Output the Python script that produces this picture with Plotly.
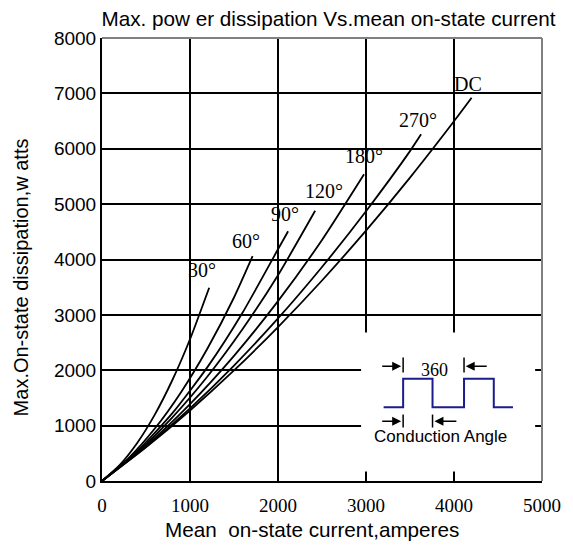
import plotly.graph_objects as go

# ---- data ----
cur_dc = [0, 500, 1000, 1500, 2000, 2500, 3000, 3500, 4000, 4200]
pow_dc = [0, 607, 1273, 1997, 2780, 3621, 4521, 5479, 6496, 6920]

cur_270 = [0, 500, 1000, 1500, 2000, 2500, 3000, 3500, 3626]
pow_270 = [0, 617, 1312, 2085, 2936, 3865, 4872, 5957, 6260]

cur_180 = [0, 500, 1000, 1500, 2000, 2500, 2978]
pow_180 = [0, 637, 1390, 2261, 3248, 4353, 5540]

cur_120 = [0, 400, 800, 1200, 1600, 2000, 2422]
pow_120 = [0, 518, 1150, 1892, 2749, 3716, 4880]

cur_90 = [0, 400, 800, 1200, 1600, 2000, 2115]
pow_90 = [0, 537, 1225, 2061, 3048, 4184, 4510]

cur_60 = [0, 300, 600, 900, 1200, 1500, 1711]
pow_60 = [0, 410, 947, 1609, 2398, 3314, 4060]

cur_30 = [0, 200, 400, 600, 800, 1000, 1218]
pow_30 = [0, 287, 687, 1199, 1824, 2560, 3491]

series_names = ["30°", "60°", "90°", "120°", "180°", "270°", "DC"]
label_x = [1133, 1633, 2078, 2522, 2978, 3589, 4161]
label_y = [3810, 4334, 4821, 5237, 5869, 6519, 7169]

x_ticks = [0, 1000, 2000, 3000, 4000, 5000]
y_ticks = [0, 1000, 2000, 3000, 4000, 5000, 6000, 7000, 8000]

SANS = "Liberation Sans, Arial, sans-serif"
SERIF = "Liberation Serif, Times New Roman, serif"

fig = go.Figure()
curves = [(cur_30, pow_30), (cur_60, pow_60), (cur_90, pow_90), (cur_120, pow_120),
          (cur_180, pow_180), (cur_270, pow_270), (cur_dc, pow_dc)]
for (cx, cy), nm in zip(curves, series_names):
    fig.add_trace(go.Scatter(x=cx, y=cy, mode="lines", name=nm,
                             line=dict(color="black", width=1.8, shape="spline", smoothing=0.6),
                             showlegend=False, hoverinfo="skip"))

annotations = []
for nm, lx, ly in zip(series_names, label_x, label_y):
    annotations.append(dict(x=lx, y=ly, xref="x", yref="y", text=nm, showarrow=False,
                            font=dict(family=SERIF, size=20, color="black")))

# axis titles
annotations.append(dict(x=0.4767, y=-0.1106, xref="paper", yref="paper",
                        xanchor="center", yanchor="middle",
                        text="Mean  on-state current,amperes", showarrow=False,
                        font=dict(family=SANS, size=20.7, color="black")))
annotations.append(dict(x=-0.182, y=0.4594, xref="paper", yref="paper",
                        xanchor="center", yanchor="middle",
                        text="Max.On-state dissipation,w atts", showarrow=False, textangle=-90,
                        font=dict(family=SANS, size=20, color="black")))

# ---- inset diagram (decoration) ----
shapes = []
shapes.append(dict(type="rect", xref="x", yref="y", x0=2944, x1=4922, y0=171, y1=2680,
                   fillcolor="white", line=dict(width=0), layer="between"))
wave_x = [3200, 3422, 3422, 3756, 3756, 4114, 4114, 4452, 4452, 4670]
wave_y = [1332, 1332, 1845, 1845, 1332, 1332, 1845, 1845, 1332, 1332]
fig.add_trace(go.Scatter(x=wave_x, y=wave_y, mode="lines", showlegend=False, hoverinfo="skip",
                         line=dict(color="#1c1c8c", width=2)))
for bx, y0, y1 in [(3422, 1958, 2229), (4114, 1958, 2229), (3422, 966, 1200), (3756, 966, 1200)]:
    shapes.append(dict(type="line", xref="x", yref="y", x0=bx, x1=bx, y0=y0, y1=y1,
                       line=dict(color="black", width=1.5), layer="above"))
for (tx, ty, ax, ay) in [(3400, 2072, 3167, 2072), (4133, 2072, 4389, 2072),
                         (3400, 1079, 3167, 1079), (3778, 1079, 4044, 1079)]:
    annotations.append(dict(x=tx, y=ty, ax=ax, ay=ay, xref="x", yref="y", axref="x", ayref="y",
                            text="", showarrow=True, arrowhead=2, arrowsize=1.2, arrowwidth=1.5,
                            arrowcolor="black"))
annotations.append(dict(x=3778, y=2013, xref="x", yref="y", text="360", showarrow=False,
                        font=dict(family=SERIF, size=18, color="black")))
annotations.append(dict(x=3850, y=803, xref="x", yref="y", text="Conduction Angle", showarrow=False,
                        font=dict(family=SANS, size=17, color="black")))

# top & right border (gray)
shapes.append(dict(type="line", xref="paper", yref="paper", x0=0, x1=1, y0=1, y1=1,
                   line=dict(color="#808080", width=2), layer="above"))
shapes.append(dict(type="line", xref="paper", yref="paper", x0=1, x1=1, y0=0, y1=1,
                   line=dict(color="#808080", width=2), layer="above"))

fig.update_layout(
    width=573, height=545,
    margin=dict(l=102, r=21, t=38, b=64),
    paper_bgcolor="white", plot_bgcolor="white",
    title=dict(text="Max. pow er dissipation Vs.mean on-state current", x=0.5733, xref="container",
               xanchor="center", y=0.9651, yanchor="middle",
               font=dict(family=SANS, size=20.7, color="black")),
    shapes=shapes, annotations=annotations,
)
fig.update_xaxes(range=[0, 5000], tickvals=x_ticks, ticktext=[str(v) for v in x_ticks],
                 showgrid=True, gridcolor="black", gridwidth=1.8,
                 showline=True, linecolor="black", linewidth=2, zeroline=False,
                 ticks="", ticklabelstandoff=6, tickfont=dict(family=SERIF, size=19, color="black"))
fig.update_yaxes(range=[0, 8000], tickvals=y_ticks, ticktext=[str(v) for v in y_ticks],
                 showgrid=True, gridcolor="black", gridwidth=1.8,
                 showline=True, linecolor="black", linewidth=2, zeroline=False,
                 ticks="", tickfont=dict(family=SANS, size=19, color="black"))

# remove the default page margin so the figure fills the window exactly
fig.write_html("out.html", config={"displayModeBar": False},
               post_script="document.body.style.margin='0';"
                           "document.documentElement.style.overflow='hidden';")
